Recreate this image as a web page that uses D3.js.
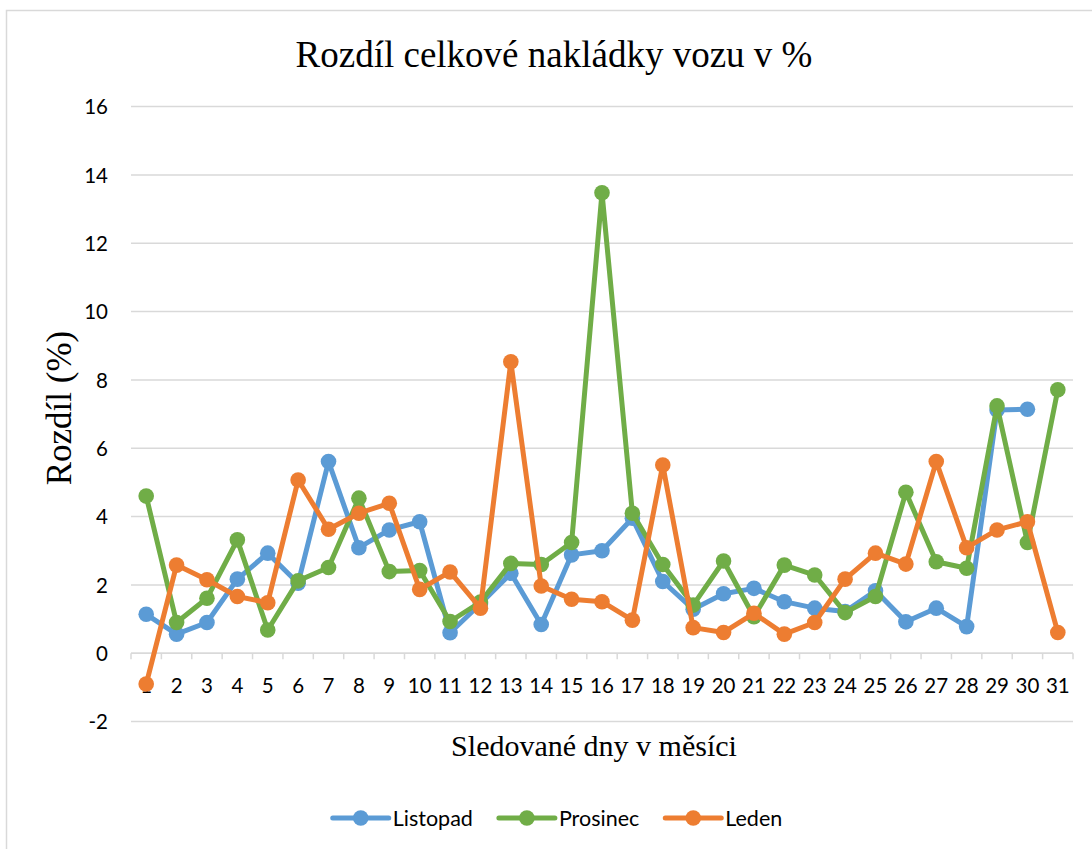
<!DOCTYPE html>
<html>
<head>
<meta charset="utf-8">
<script src="https://cdn.jsdelivr.net/npm/d3@7/dist/d3.min.js"></script>
<style>
  html, body { margin: 0; padding: 0; background: #ffffff; }
  svg { display: block; }
</style>
</head>
<body>
<svg id="chart" width="1092" height="849"></svg>
<script>
// Days of the month shown on the category axis
const days = [1, 2, 3, 4, 5, 6, 7, 8, 9, 10, 11, 12, 13, 14, 15, 16, 17, 18, 19, 20,
              21, 22, 23, 24, 25, 26, 27, 28, 29, 30, 31];

// Difference of total wagon loading (%) per day
const listopad = [1.14, 0.56, 0.90, 2.17, 2.93, 2.05, 5.61, 3.09, 3.61, 3.85,
                  0.60, 1.45, 2.34, 0.84, 2.88, 3.00, 3.95, 2.10, 1.29, 1.74,
                  1.90, 1.51, 1.32, 1.22, 1.83, 0.92, 1.32, 0.78, 7.12, 7.14];
const prosinec = [4.60, 0.90, 1.61, 3.32, 0.68, 2.12, 2.51, 4.54, 2.39, 2.42,
                  0.93, 1.50, 2.63, 2.60, 3.24, 13.48, 4.10, 2.60, 1.41, 2.70,
                  1.07, 2.58, 2.29, 1.19, 1.66, 4.71, 2.68, 2.49, 7.24, 3.24, 7.71];
const leden    = [-0.90, 2.58, 2.15, 1.66, 1.48, 5.07, 3.63, 4.10, 4.39, 1.87,
                  2.38, 1.32, 8.53, 1.97, 1.58, 1.51, 0.97, 5.51, 0.75, 0.61,
                  1.17, 0.56, 0.90, 2.17, 2.93, 2.61, 5.61, 3.09, 3.61, 3.85, 0.61];

const seriesNames = ["Listopad", "Prosinec", "Leden"];
const seriesColors = ["#5B9BD5", "#70AD47", "#ED7D31"];
const yTicks = [-2, 0, 2, 4, 6, 8, 10, 12, 14, 16];

const titleText = "Rozdíl celkové nakládky vozu v %";
const xTitleText = "Sledované dny v měsíci";
const yTitleText = "Rozdíl (%)";

const series = [listopad, prosinec, leden].map((vals, i) => ({
  name: seriesNames[i],
  color: seriesColors[i],
  values: vals.map((v, j) => ({ day: days[j], value: v }))
}));

const svg = d3.select("#chart");
const sans = "Lato, 'Open Sans', 'Noto Sans', sans-serif";
const serif = "'Liberation Serif', 'DejaVu Serif', serif";

// Chart frame
svg.append("rect")
  .attr("x", 6.5).attr("y", 10.5)
  .attr("width", 1100).attr("height", 860)
  .attr("fill", "#ffffff")
  .attr("stroke", "#d9d9d9").attr("stroke-width", 1.5);

const plot = { left: 131, right: 1073, top: 106.6, bottom: 721.6 };

const x = d3.scaleBand().domain(days).range([plot.left, plot.right]).paddingInner(0).paddingOuter(0);
const y = d3.scaleLinear().domain([-2, 16]).range([plot.bottom, plot.top]);
const cx = d => x(d) + x.bandwidth() / 2;

// Horizontal gridlines
svg.append("g")
  .selectAll("line")
  .data(yTicks)
  .join("line")
  .attr("x1", plot.left).attr("x2", plot.right)
  .attr("y1", d => y(d)).attr("y2", d => y(d))
  .attr("stroke", "#d9d9d9").attr("stroke-width", 1.5);

// Value axis labels
const yAxis = d3.axisLeft(y).tickValues(yTicks).tickSize(0).tickPadding(0)
  .tickFormat(d => String(d).replace("\u2212", "-"));
const yAxisG = svg.append("g").attr("transform", "translate(108,0)").call(yAxis);
yAxisG.select(".domain").remove();
yAxisG.selectAll("text")
  .attr("font-family", sans).attr("font-size", 20.5).attr("fill", "#000000")
  .attr("dy", "0.35em");

// Category axis on the zero line, ticks between categories
const xAxisG = svg.append("g").attr("transform", `translate(0,${y(0)})`);
xAxisG.append("line")
  .attr("x1", plot.left).attr("x2", plot.right)
  .attr("stroke", "#d9d9d9").attr("stroke-width", 1.5);
const boundaries = days.map(d => x(d)).concat([plot.right]);
xAxisG.selectAll("line.tick")
  .data(boundaries)
  .join("line")
  .attr("class", "tick")
  .attr("x1", d => d).attr("x2", d => d)
  .attr("y1", 0).attr("y2", 6)
  .attr("stroke", "#d9d9d9").attr("stroke-width", 1.5);
xAxisG.selectAll("text")
  .data(days)
  .join("text")
  .attr("x", d => cx(d))
  .attr("y", 33)
  .attr("dy", "0.35em")
  .attr("text-anchor", "middle")
  .attr("font-family", sans).attr("font-size", 20.5).attr("fill", "#000000")
  .text(d => d);

// Lines and markers
const line = d3.line().x(d => cx(d.day)).y(d => y(d.value));
const sg = svg.append("g").selectAll("g").data(series).join("g");
sg.append("path")
  .attr("d", d => line(d.values))
  .attr("fill", "none")
  .attr("stroke", d => d.color)
  .attr("stroke-width", 5)
  .attr("stroke-linejoin", "round")
  .attr("stroke-linecap", "round");
sg.selectAll("circle")
  .data(d => d.values.map(v => ({ ...v, color: d.color })))
  .join("circle")
  .attr("cx", d => cx(d.day))
  .attr("cy", d => y(d.value))
  .attr("r", 7.8)
  .attr("fill", d => d.color);

// Titles
svg.append("text")
  .attr("x", 554).attr("y", 67)
  .attr("text-anchor", "middle")
  .attr("font-family", serif).attr("font-size", 37).attr("fill", "#000000")
  .text(titleText);

svg.append("text")
  .attr("x", 594).attr("y", 756)
  .attr("text-anchor", "middle")
  .attr("font-family", serif).attr("font-size", 30).attr("fill", "#000000")
  .text(xTitleText);

svg.append("text")
  .attr("transform", "translate(71,408) rotate(-90)")
  .attr("text-anchor", "middle")
  .attr("font-family", serif).attr("font-size", 35).attr("fill", "#000000")
  .text(yTitleText);

// Legend
const legend = svg.append("g");
const items = legend.selectAll("g").data(series).join("g");
items.append("line")
  .attr("x1", 0).attr("x2", 56).attr("y1", 0).attr("y2", 0)
  .attr("stroke", d => d.color).attr("stroke-width", 5).attr("stroke-linecap", "round");
items.append("circle")
  .attr("cx", 28).attr("cy", 0).attr("r", 7.8)
  .attr("fill", d => d.color);
items.append("text")
  .attr("x", 60).attr("y", 0).attr("dy", "0.35em")
  .attr("font-family", sans).attr("font-size", 21.5).attr("fill", "#000000")
  .text(d => d.name);
let offset = 0;
const widths = [];
items.each(function () {
  const w = 60 + this.querySelector("text").getComputedTextLength();
  widths.push(w);
});
const gap = 26;
const total = d3.sum(widths) + gap * (widths.length - 1);
let start = 557.5 - total / 2;
items.attr("transform", (d, i) => {
  const t = `translate(${start + offset},818)`;
  offset += widths[i] + gap;
  return t;
});
</script>
</body>
</html>
